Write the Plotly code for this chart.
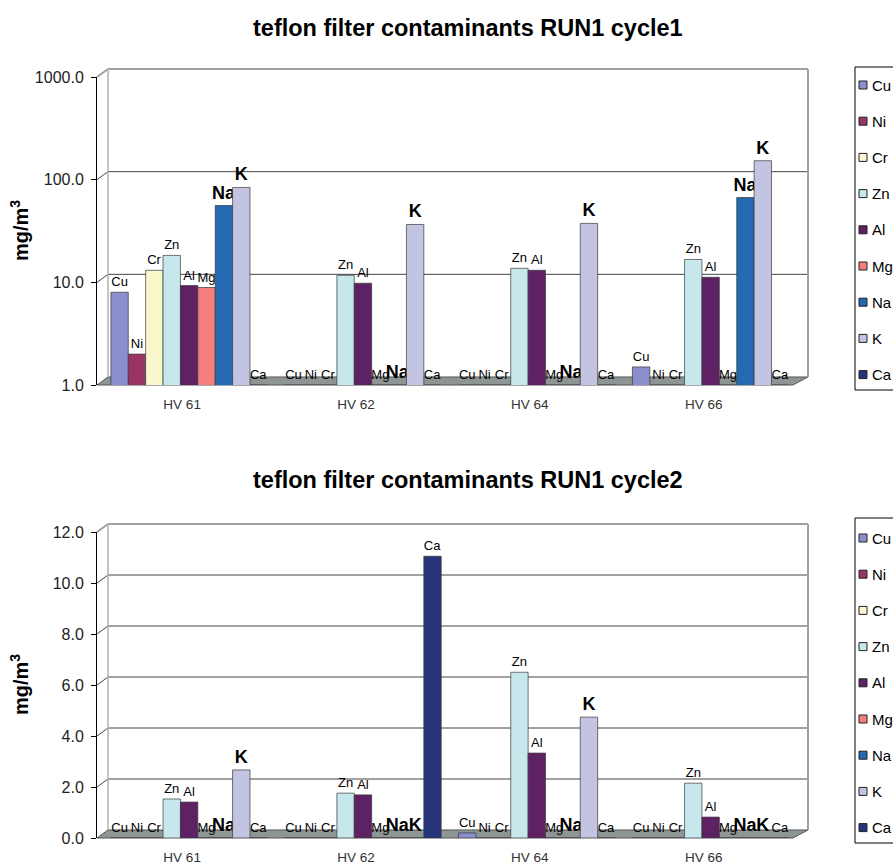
import math
import plotly.graph_objects as go

W, H = 893, 866

categories = ["HV 61", "HV 62", "HV 64", "HV 66"]
elements = ["Cu", "Ni", "Cr", "Zn", "Al", "Mg", "Na", "K", "Ca"]
colors = ["#8b8fcb", "#983466", "#fbf7cc", "#c6e8ec", "#5e2163", "#f47f7c", "#2469b2", "#c3c3e2", "#26347a"]
bold_elements = ["Na", "K"]

# cycle 1 (log scale, values at the floor read as 1.0)
c1_Cu = [8.0, 1.0, 1.0, 1.5]
c1_Ni = [2.0, 1.0, 1.0, 1.0]
c1_Cr = [13.1, 1.0, 1.0, 1.0]
c1_Zn = [18.3, 11.7, 13.7, 16.7]
c1_Al = [9.3, 9.8, 13.1, 11.2]
c1_Mg = [8.9, 1.0, 1.0, 1.0]
c1_Na = [56.0, 1.0, 1.0, 67.0]
c1_K = [84.0, 36.6, 37.5, 153.0]
c1_Ca = [1.0, 1.0, 1.0, 1.0]

# cycle 2 (linear scale)
c2_Cu = [0.0, 0.0, 0.2, 0.0]
c2_Ni = [0.0, 0.0, 0.0, 0.0]
c2_Cr = [0.0, 0.0, 0.0, 0.0]
c2_Zn = [1.53, 1.76, 6.5, 2.15]
c2_Al = [1.41, 1.69, 3.33, 0.82]
c2_Mg = [0.0, 0.0, 0.0, 0.0]
c2_Na = [0.0, 0.0, 0.0, 0.0]
c2_K = [2.67, 0.0, 4.74, 0.0]
c2_Ca = [0.0, 11.05, 0.0, 0.0]

cycle1 = [c1_Cu, c1_Ni, c1_Cr, c1_Zn, c1_Al, c1_Mg, c1_Na, c1_K, c1_Ca]
cycle2 = [c2_Cu, c2_Ni, c2_Cr, c2_Zn, c2_Al, c2_Mg, c2_Na, c2_K, c2_Ca]

y1_ticks = [1, 10, 100, 1000]
y2_ticks = [0, 2, 4, 6, 8, 10, 12]

titles = ["teflon filter contaminants RUN1 cycle1", "teflon filter contaminants RUN1 cycle2"]
y_title = "mg/m<sup>3</sup>"

FONT = "Liberation Sans, Arial, sans-serif"


def px(x):
    return x / W


def py(y):
    return 1 - y / H


fig = go.Figure()

for data, xa, ya in [(cycle1, "x", "y"), (cycle2, "x2", "y2")]:
    for el, col, vals in zip(elements, colors, data):
        isb = el in bold_elements
        fig.add_trace(go.Bar(
            x=categories, y=vals, name=el, xaxis=xa, yaxis=ya,
            marker=dict(color=col, line=dict(color="#3a3a3a", width=0.7)),
            text=[el] * len(vals),
            texttemplate="<b>%{text}</b>" if isb else "%{text}",
            textposition="outside", cliponaxis=False, constraintext="none",
            textfont=dict(size=18 if isb else 13, color="#000", family=FONT),
            showlegend=False, hoverinfo="x+y+name",
        ))

# geometry (pixels)
AX_L, AX_R = 97, 808
WALL_DX, WALL_DY = 11, 8
top = dict(bottom=385, top=77)
bot = dict(bottom=838, top=532)

xaxis_common = dict(
    type="category", range=[-0.53, 3.56], showgrid=False, zeroline=False,
    showline=False, ticks="", tickfont=dict(size=13.5, color="#333", family=FONT),
    ticklabelstandoff=9, ticklabelshift=-7, fixedrange=True,
)
yaxis_common = dict(
    showgrid=False, zeroline=False, tickformat=".1f",
    showline=True, linecolor="#000", linewidth=1, ticks="outside",
    ticklen=5, tickcolor="#000", ticklabelstandoff=4,
    tickfont=dict(size=16, color="#222", family=FONT), fixedrange=True,
)
fig.update_layout(
    width=W, height=H,
    margin=dict(l=0, r=0, t=0, b=0, autoexpand=False),
    paper_bgcolor="white", plot_bgcolor="rgba(0,0,0,0)",
    font=dict(family=FONT, color="#000"),
    bargap=0.1, bargroupgap=0.0, barmode="group",
    showlegend=False,
    xaxis=dict(domain=[px(AX_L), px(AX_R)], anchor="y", **xaxis_common),
    xaxis2=dict(domain=[px(AX_L), px(AX_R)], anchor="y2", **xaxis_common),
    yaxis=dict(domain=[py(top["bottom"]), py(top["top"])], anchor="x", type="log",
               range=[0, 3], tickvals=y1_ticks, **yaxis_common),
    yaxis2=dict(domain=[py(bot["bottom"]), py(bot["top"])], anchor="x2",
                range=[0, 12], tickvals=y2_ticks, **yaxis_common),
)


def pix_top(v):
    return top["bottom"] - (math.log10(v) - 0) / 3 * (top["bottom"] - top["top"])


def pix_bot(v):
    return bot["bottom"] - v / 12 * (bot["bottom"] - bot["top"])


shapes = []
annotations = []
for g, ticks, fmap, title, ty in [(top, y1_ticks, pix_top, titles[0], 28),
                                  (bot, y2_ticks, pix_bot, titles[1], 480)]:
    back_bottom = g["bottom"] - WALL_DY
    back_top = g["top"] - WALL_DY
    # floor
    path = "M {:.4f} {:.4f} L {:.4f} {:.4f} L {:.4f} {:.4f} L {:.4f} {:.4f} Z".format(
        px(AX_L), py(g["bottom"]), px(AX_R - 15), py(g["bottom"]),
        px(AX_R), py(back_bottom), px(AX_L + WALL_DX), py(back_bottom))
    shapes.append(dict(type="path", xref="paper", yref="paper", path=path,
                       fillcolor="#8d9595", line=dict(color="#555", width=1), layer="below"))
    # back wall gridlines with left-wall connectors
    for t in ticks[1:]:
        yt = fmap(t)
        last = t == ticks[-1]
        lc = "#a0a0a0" if last else "#444"
        lw = 2 if last else 1
        shapes.append(dict(type="line", xref="paper", yref="paper",
                           x0=px(AX_L + WALL_DX), x1=px(AX_R), y0=py(yt - WALL_DY), y1=py(yt - WALL_DY),
                           line=dict(color=lc, width=lw), layer="below"))
        shapes.append(dict(type="line", xref="paper", yref="paper",
                           x0=px(AX_L), x1=px(AX_L + WALL_DX), y0=py(yt), y1=py(yt - WALL_DY),
                           line=dict(color=lc, width=lw), layer="below"))
    # left wall back edge and right wall edge
    shapes.append(dict(type="line", xref="paper", yref="paper",
                       x0=px(AX_L + WALL_DX), x1=px(AX_L + WALL_DX), y0=py(back_bottom), y1=py(back_top),
                       line=dict(color="#b0b0b0", width=1.5), layer="below"))
    shapes.append(dict(type="line", xref="paper", yref="paper",
                       x0=px(AX_R), x1=px(AX_R), y0=py(back_bottom), y1=py(back_top),
                       line=dict(color="#a0a0a0", width=2), layer="below"))
    annotations.append(dict(text="<b>" + title + "</b>", xref="paper", yref="paper",
                            x=px(468), y=py(ty), showarrow=False,
                            font=dict(size=23.5, family=FONT, color="#000"),
                            xanchor="center", yanchor="middle"))
    annotations.append(dict(text="<b>" + y_title + "</b>", xref="paper", yref="paper",
                            x=px(19), y=py((g["bottom"] + g["top"]) / 2), showarrow=False,
                            textangle=-90, font=dict(size=20, family=FONT, color="#000"),
                            xanchor="center", yanchor="middle"))

# legends (drawn by hand so they can run off the right edge like the original)
for box_top, box_bottom, first_y in [(67, 390, 85), (518, 843, 538)]:
    shapes.append(dict(type="rect", xref="paper", yref="paper",
                       x0=px(855), x1=px(910), y0=py(box_bottom), y1=py(box_top),
                       line=dict(color="#000", width=1), fillcolor="white", layer="above"))
    for i, (el, col) in enumerate(zip(elements, colors)):
        yc = first_y + i * 36.2
        shapes.append(dict(type="rect", xref="paper", yref="paper",
                           x0=px(859), x1=px(867), y0=py(yc + 4), y1=py(yc - 4),
                           fillcolor=col, line=dict(color="#222", width=1), layer="above"))
        annotations.append(dict(text=el, xref="paper", yref="paper", x=px(870), y=py(yc),
                                showarrow=False, xanchor="left", yanchor="middle",
                                font=dict(size=15, family=FONT, color="#000")))

fig.update_layout(shapes=shapes, annotations=annotations)

fig.write_html("out.html")
